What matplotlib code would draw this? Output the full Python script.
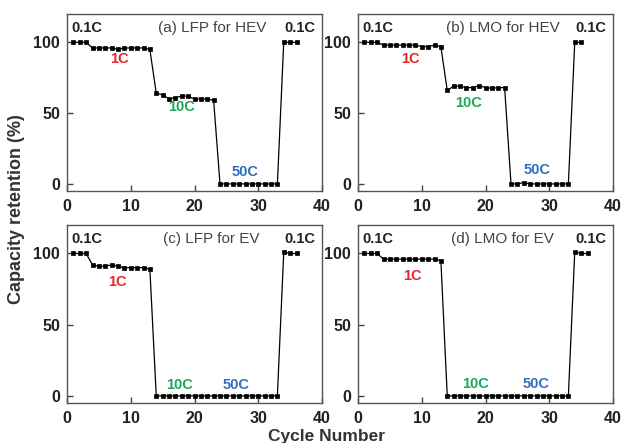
import matplotlib
matplotlib.use("Agg")
import matplotlib.pyplot as plt

plt.rcParams['font.family'] = ['Liberation Sans', 'DejaVu Sans']

# cycle numbers for each panel
cyc_36 = list(range(1, 37))
cyc_35 = list(range(1, 36))

# capacity retention (%)
lfp_hev = [100, 100, 100,
           96, 96, 96, 96, 95, 96, 96, 96, 96, 95,
           64, 63, 60, 61, 62, 62, 60, 60, 60, 59,
           0, 0, 0, 0, 0, 0, 0, 0, 0, 0,
           100, 100, 100]
lmo_hev = [100, 100, 100,
           98, 98, 98, 98, 98, 98, 97, 97, 98, 97,
           66, 69, 69, 68, 68, 69.5, 68, 67.5, 68, 68,
           0, 0, 1, 0, 0, 0, 0, 0, 0, 0,
           100, 100]
lfp_ev = [100, 100, 100,
          92, 91, 91, 92, 91, 90, 90, 90, 90, 89,
          0, 0, 0, 0, 0, 0, 0, 0, 0, 0,
          0, 0, 0, 0, 0, 0, 0, 0, 0, 0,
          101, 100, 100]
lmo_ev = [100, 100, 100,
          96, 96, 96, 96, 96, 96, 96, 96, 96, 95,
          0, 0, 0, 0, 0, 0, 0, 0, 0, 0,
          0, 0, 0, 0, 0, 0, 0, 0, 0, 0,
          101, 100, 100]

titles = ['(a) LFP for HEV', '(b) LMO for HEV', '(c) LFP for EV', '(d) LMO for EV']
# rate label positions (x, y) per panel: 1C, 10C, 50C
rate_pos = [
    [(8.2, 88.5), (18.0, 54), (27.9, 8.5)],
    [(8.2, 88.5), (17.4, 57), (28.1, 9.5)],
    [(7.9, 80), (17.7, 7.5), (26.5, 7.5)],
    [(8.5, 84), (18.5, 8.5), (27.9, 8)],
]
rate_names = ['1C', '10C', '50C']
rate_colors = ['#e8262c', '#1fa55a', '#2f6fbf']

series = [(cyc_36, lfp_hev), (cyc_35, lmo_hev), (cyc_36, lfp_ev), (cyc_36, lmo_ev)]

W, H = 622, 443
fig = plt.figure(figsize=(W / 100, H / 100), dpi=100)

# axes boxes in pixels: left, top, right, bottom
boxes = [(67, 14, 322, 191), (358, 14, 613, 191),
         (67, 225, 322, 403), (358, 225, 613, 403)]

for i, (box, (x, y)) in enumerate(zip(boxes, series)):
    l, t, r, b = box
    ax = fig.add_axes([l / W, 1 - b / H, (r - l) / W, (b - t) / H])
    ax.plot(x, y, color='black', lw=0.9, marker='s', ms=3.5, mfc='black', mec='black',
            mew=0.5)
    ax.set_xlim(0, 40)
    ax.set_ylim(-5, 120)
    ax.set_xticks([0, 10, 20, 30, 40])
    ax.set_yticks([0, 50, 100])
    ax.tick_params(direction='in', length=4, width=1, color='#444444',
                   labelsize=11.5, labelcolor='#222222')
    ax.tick_params(axis='x', pad=6)
    ax.tick_params(axis='y', pad=5)
    for lab in ax.get_xticklabels() + ax.get_yticklabels():
        lab.set_fontweight('bold')
    for sp in ax.spines.values():
        sp.set_color('#555555')
        sp.set_linewidth(1.0)

    ax.text(0.7, 110, '0.1C', fontsize=10.5, fontweight='bold', color='#222222',
            ha='left', va='center')
    ax.text(36.6, 110, '0.1C', fontsize=10.5, fontweight='bold', color='#222222',
            ha='center', va='center')
    ax.text(22.7, 110, titles[i], fontsize=11, color='#444444', ha='center', va='center')
    for name, col, (px, py) in zip(rate_names, rate_colors, rate_pos[i]):
        ax.text(px, py, name, fontsize=10.5, fontweight='bold', color=col,
                ha='center', va='center')

fig.text(17 / W, 1 - 209 / H, 'Capacity retention (%)', rotation=90, fontsize=13,
         fontweight='bold', color='#333333', ha='center', va='center')
fig.text(326.5 / W, 1 - 436 / H, 'Cycle Number', fontsize=12.5, fontweight='bold',
         color='#333333', ha='center', va='center')

fig.savefig('out.png', dpi=100)
